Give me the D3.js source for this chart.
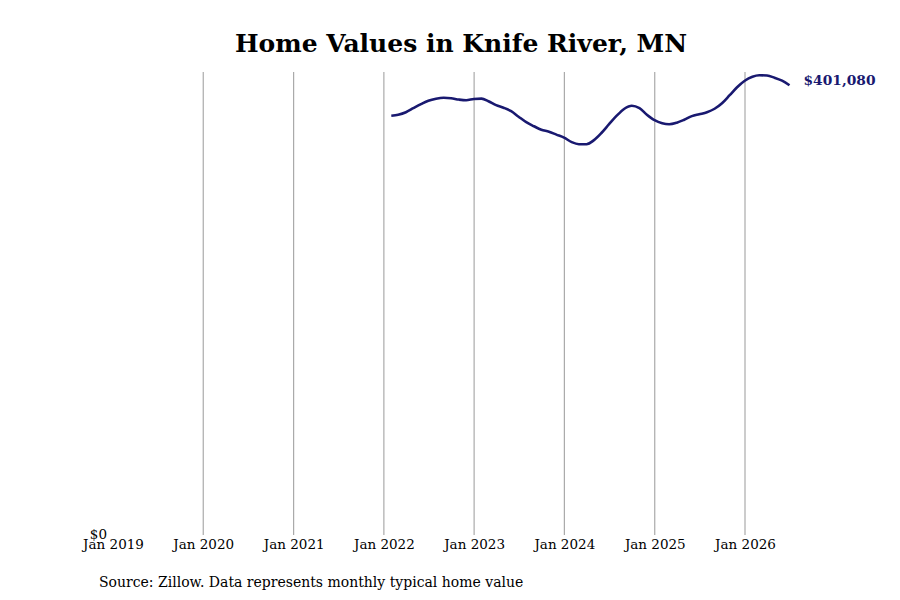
<!DOCTYPE html>
<html>
<head>
<meta charset="utf-8">
<script src="https://cdn.jsdelivr.net/npm/d3@7"></script>
<style>
  body { margin: 0; background: #fff; }
  text { font-family: "DejaVu Serif", serif; }
</style>
</head>
<body>
<div id="chart"></div>
<script>
// monthly typical home value, Jan 2022 - Jun 2026 (end of month)
const startMonth = "2022-01-31";
const values = [
  373900, 374800, 377000, 380600, 384200, 387300, 389100, 389900, 389500, 388300, 387700, 388800,
  389100, 386800, 383300, 381000, 377900, 373000, 368100, 364500, 361400, 359600, 357000, 354300,
  350300, 348500, 348500, 352100, 358700, 366300, 373900, 380100, 382800, 380600, 374800, 369900,
  367200, 366300, 367700, 370300, 373500, 375200, 377000, 380100, 385000, 392200, 399300, 405100,
  408700, 410000, 409700, 407800, 405100, 401080
];
const tickYears = [2019, 2020, 2021, 2022, 2023, 2024, 2025, 2026];
const yTicks = [0];
const title = "Home Values in Knife River, MN";
const source = "Source: Zillow. Data represents monthly typical home value";

const width = 900, height = 600;
const margin = { top: 72, right: 110, bottom: 65, left: 113 };

// build dated series
const start = d3.timeParse("%Y-%m-%d")(startMonth);
const data = values.map((v, i) => ({
  date: d3.timeDay.offset(d3.timeMonth.offset(d3.timeMonth.floor(start), i + 1), -1),
  value: v
}));

const svg = d3.select("#chart").append("svg")
  .attr("width", width)
  .attr("height", height);

const x = d3.scaleTime()
  .domain([new Date(2019, 0, 1), new Date(2026, 0, 1)])
  .range([margin.left, 745]);

const y = d3.scaleLinear()
  .domain([0, d3.max(values) * 1.007])
  .range([height - margin.bottom, margin.top]);

// title
svg.append("text")
  .attr("x", 461)
  .attr("y", 52)
  .attr("text-anchor", "middle")
  .style("font-size", "25px")
  .style("font-weight", "bold")
  .style("fill", "#000")
  .text(title);

// vertical grid lines (skip the first year)
svg.append("g")
  .selectAll("line")
  .data(tickYears.slice(1))
  .join("line")
  .attr("x1", d => x(new Date(d, 0, 1)))
  .attr("x2", d => x(new Date(d, 0, 1)))
  .attr("y1", y.range()[1])
  .attr("y2", y.range()[0])
  .attr("stroke", "#999")
  .attr("stroke-width", 1);

// x axis labels
const xAxis = d3.axisBottom(x)
  .tickValues(tickYears.map(d => new Date(d, 0, 1)))
  .tickFormat(d3.timeFormat("%b %Y"))
  .tickSize(0)
  .tickPadding(4);

svg.append("g")
  .attr("transform", `translate(0,${height - margin.bottom})`)
  .call(xAxis)
  .call(g => g.select(".domain").remove())
  .selectAll("text")
  .style("font-family", "DejaVu Serif, serif")
  .style("font-size", "13.5px")
  .style("fill", "#000");

// y axis label
const yAxis = d3.axisLeft(y)
  .tickValues(yTicks)
  .tickFormat(d => "$" + d3.format(",")(d))
  .tickSize(0)
  .tickPadding(6);

svg.append("g")
  .attr("transform", `translate(${margin.left},-1)`)
  .call(yAxis)
  .call(g => g.select(".domain").remove())
  .selectAll("text")
  .style("font-family", "DejaVu Serif, serif")
  .style("font-size", "13.5px")
  .style("fill", "#000");

// the line
const line = d3.line()
  .x(d => x(d.date))
  .y(d => y(d.value))
  .curve(d3.curveMonotoneX);

svg.append("path")
  .datum(data)
  .attr("d", line)
  .attr("fill", "none")
  .attr("stroke", "#191970")
  .attr("stroke-width", 2.6)
  .attr("stroke-linejoin", "round");

// end label
const last = data[data.length - 1];
svg.append("text")
  .attr("x", x(last.date) + 14)
  .attr("y", y(last.value) - 5)
  .attr("dy", "0.35em")
  .style("font-size", "13.8px")
  .style("font-weight", "bold")
  .style("fill", "#191970")
  .text("$" + d3.format(",")(last.value));

// source note
svg.append("text")
  .attr("x", 99)
  .attr("y", 587)
  .style("font-size", "14px")
  .style("fill", "#000")
  .text(source);
</script>
</body>
</html>
